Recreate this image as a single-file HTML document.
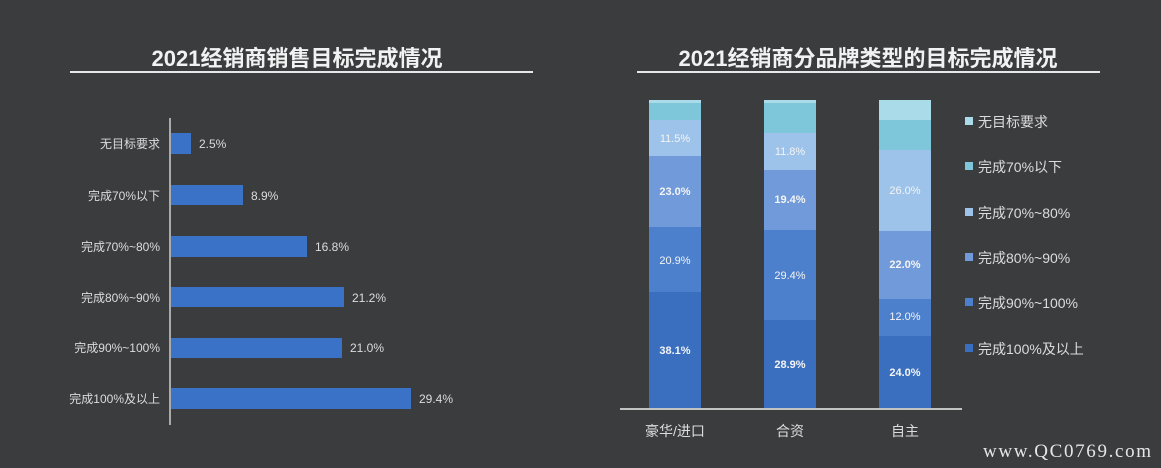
<!DOCTYPE html>
<html><head><meta charset="utf-8"><style>
html,body{margin:0;padding:0;background:#3b3c3e;}
body{width:1161px;height:468px;overflow:hidden;position:relative;font-family:"Liberation Sans","Noto Sans CJK SC",sans-serif;}
svg{position:absolute;left:0;top:0;}
</style></head><body>
<svg width="1161" height="468" viewBox="0 0 1161 468" font-family="Liberation Sans, Noto Sans CJK SC, sans-serif">
<rect width="1161" height="468" fill="#3b3c3e"/>
<text x="297" y="66" text-anchor="middle" fill="#f2f2f2" font-size="22" font-weight="bold">2021经销商销售目标完成情况</text>
<line x1="70" y1="72" x2="533" y2="72" stroke="#e8e8e8" stroke-width="2"/>
<line x1="170" y1="118" x2="170" y2="425" stroke="#aaa" stroke-width="2"/>
<g fill="#3a72c8">
<rect x="171" y="133" width="20" height="21"/>
<rect x="171" y="185" width="72" height="20"/>
<rect x="171" y="236" width="136" height="21"/>
<rect x="171" y="287" width="173" height="20"/>
<rect x="171" y="338" width="171" height="20"/>
<rect x="171" y="388" width="240" height="21"/>
</g>
<g fill="#dcdcdc" font-size="12" text-anchor="end">
<text x="160" y="148">无目标要求</text>
<text x="160" y="200">完成70%以下</text>
<text x="160" y="251">完成70%~80%</text>
<text x="160" y="302">完成80%~90%</text>
<text x="160" y="352">完成90%~100%</text>
<text x="160" y="403">完成100%及以上</text>
</g>
<g fill="#dcdcdc" font-size="12">
<text x="199" y="148">2.5%</text>
<text x="251" y="200">8.9%</text>
<text x="315" y="251">16.8%</text>
<text x="352" y="302">21.2%</text>
<text x="350" y="352">21.0%</text>
<text x="419" y="403">29.4%</text>
</g>
<text x="868" y="66" text-anchor="middle" fill="#f2f2f2" font-size="22" font-weight="bold">2021经销商分品牌类型的目标完成情况</text>
<line x1="637" y1="72" x2="1100" y2="72" stroke="#e8e8e8" stroke-width="2"/>
<rect x="649" y="292" width="52" height="116" fill="#3a6fc0"/>
<rect x="649" y="227" width="52" height="65" fill="#4c80cd"/>
<rect x="649" y="156" width="52" height="71" fill="#709ad9"/>
<rect x="649" y="120" width="52" height="36" fill="#9dc3ea"/>
<rect x="649" y="103" width="52" height="17" fill="#7ec6d9"/>
<rect x="649" y="100" width="52" height="3" fill="#aadbe9"/>
<rect x="764" y="320" width="52" height="88" fill="#3a6fc0"/>
<rect x="764" y="230" width="52" height="90" fill="#4c80cd"/>
<rect x="764" y="170" width="52" height="60" fill="#709ad9"/>
<rect x="764" y="133" width="52" height="37" fill="#9dc3ea"/>
<rect x="764" y="103" width="52" height="30" fill="#7ec6d9"/>
<rect x="764" y="100" width="52" height="3" fill="#aadbe9"/>
<rect x="879" y="336" width="52" height="72" fill="#3a6fc0"/>
<rect x="879" y="299" width="52" height="37" fill="#4c80cd"/>
<rect x="879" y="231" width="52" height="68" fill="#709ad9"/>
<rect x="879" y="150" width="52" height="81" fill="#9dc3ea"/>
<rect x="879" y="120" width="52" height="30" fill="#7ec6d9"/>
<rect x="879" y="100" width="52" height="20" fill="#aadbe9"/>
<line x1="620" y1="409" x2="962" y2="409" stroke="#eee" stroke-width="1.5"/>
<g fill="#f4f4f4" font-size="11" text-anchor="middle">
<text x="675" y="142">11.5%</text>
<text x="675" y="195" font-weight="bold">23.0%</text>
<text x="675" y="264">20.9%</text>
<text x="675" y="354" font-weight="bold">38.1%</text>
<text x="790" y="155">11.8%</text>
<text x="790" y="203" font-weight="bold">19.4%</text>
<text x="790" y="279">29.4%</text>
<text x="790" y="368" font-weight="bold">28.9%</text>
<text x="905" y="194">26.0%</text>
<text x="905" y="268" font-weight="bold">22.0%</text>
<text x="905" y="320">12.0%</text>
<text x="905" y="376" font-weight="bold">24.0%</text>
</g>
<g fill="#dcdcdc" font-size="14" text-anchor="middle">
<text x="675" y="436">豪华/进口</text>
<text x="790" y="436">合资</text>
<text x="905" y="436">自主</text>
</g>
<rect x="965" y="117" width="8" height="8" fill="#aadbe9"/>
<rect x="965" y="162" width="8" height="8" fill="#7ec6d9"/>
<rect x="965" y="208" width="8" height="8" fill="#9dc3ea"/>
<rect x="965" y="253" width="8" height="8" fill="#709ad9"/>
<rect x="965" y="298" width="8" height="8" fill="#4c80cd"/>
<rect x="965" y="344" width="8" height="8" fill="#3a6fc0"/>
<g fill="#dcdcdc" font-size="14">
<text x="978" y="127">无目标要求</text>
<text x="978" y="172">完成70%以下</text>
<text x="978" y="218">完成70%~80%</text>
<text x="978" y="263">完成80%~90%</text>
<text x="978" y="308">完成90%~100%</text>
<text x="978" y="354">完成100%及以上</text>
</g>
<text x="983" y="457" fill="#e6e6e6" font-size="19" font-family="Liberation Serif, serif" textLength="168" lengthAdjust="spacing">www.QC0769.com</text>
</svg>
</body></html>
